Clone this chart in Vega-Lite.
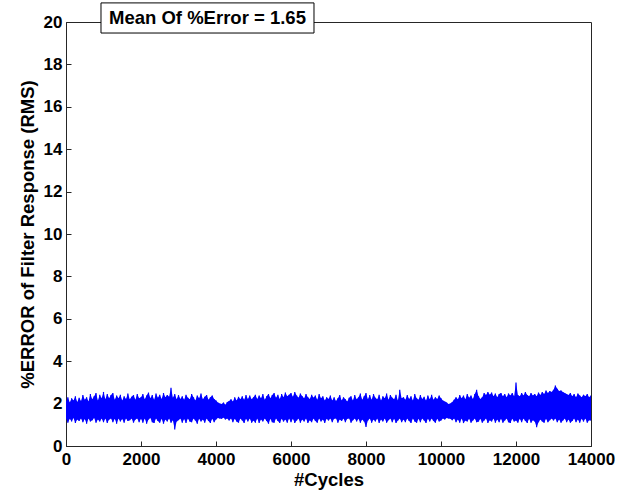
{
"$schema": "https://vega.github.io/schema/vega-lite/v6.json",
"width": 525, "height": 424,
"autosize": "none",
"padding": {"left": 66, "top": 22, "right": 36, "bottom": 45},
"background": "white",
"config": {
 "view": {"stroke": "#262626", "strokeWidth": 1},
 "font": "Liberation Sans",
 "axis": {"grid": false, "domainColor": "#262626", "tickColor": "#262626", "labelFont": "Liberation Sans", "labelFontWeight": "bold", "labelFontSize": 17, "labelColor": "black", "titleFont": "Liberation Sans", "titleFontWeight": "bold", "titleFontSize": 18.5, "titleColor": "black", "tickSize": -5, "tickWidth": 1}
},
"datasets": {
"err": [
{"c":0,"lo":1.3,"hi":2.1},{"c":50,"lo":1.1,"hi":2.3},{"c":100,"lo":1.28,"hi":2.05},{"c":150,"lo":1.15,"hi":2.25},{"c":200,"lo":1.32,"hi":2.15},{"c":250,"lo":1.08,"hi":2.35},{"c":300,"lo":1.25,"hi":2.08},{"c":350,"lo":1.18,"hi":2.28},{"c":400,"lo":1.3,"hi":2.12},{"c":450,"lo":1.12,"hi":2.4},{"c":500,"lo":1.27,"hi":2.18},{"c":550,"lo":1.05,"hi":2.3},{"c":600,"lo":1.3,"hi":2.1},{"c":650,"lo":1.15,"hi":2.45},{"c":700,"lo":1.22,"hi":2.2},{"c":750,"lo":1.32,"hi":2.35},{"c":800,"lo":1.1,"hi":2.5},{"c":850,"lo":1.25,"hi":2.15},{"c":900,"lo":1.15,"hi":2.42},{"c":950,"lo":1.3,"hi":2.25},
{"c":1000,"lo":1.12,"hi":2.55},{"c":1050,"lo":1.3,"hi":2.2},{"c":1100,"lo":1.08,"hi":2.45},{"c":1150,"lo":1.25,"hi":2.25},{"c":1200,"lo":1.3,"hi":2.4},{"c":1250,"lo":1.12,"hi":2.5},{"c":1300,"lo":1.28,"hi":2.18},{"c":1350,"lo":1.05,"hi":2.38},{"c":1400,"lo":1.3,"hi":2.25},{"c":1450,"lo":1.15,"hi":2.42},{"c":1500,"lo":1.27,"hi":2.15},{"c":1550,"lo":1.1,"hi":2.35},{"c":1600,"lo":1.3,"hi":2.22},{"c":1650,"lo":1.18,"hi":2.48},{"c":1700,"lo":1.22,"hi":2.2},{"c":1750,"lo":1.3,"hi":2.32},{"c":1800,"lo":1.1,"hi":2.4},{"c":1850,"lo":1.25,"hi":2.18},{"c":1900,"lo":1.3,"hi":2.45},{"c":1950,"lo":1.12,"hi":2.25},
{"c":2000,"lo":1.28,"hi":2.3},{"c":2050,"lo":1.1,"hi":2.45},{"c":2100,"lo":1.3,"hi":2.2},{"c":2150,"lo":1.05,"hi":2.38},{"c":2200,"lo":1.25,"hi":2.52},{"c":2250,"lo":1.32,"hi":2.25},{"c":2300,"lo":1.12,"hi":2.4},{"c":2350,"lo":1.08,"hi":2.18},{"c":2400,"lo":1.3,"hi":2.48},{"c":2450,"lo":1.18,"hi":2.28},{"c":2500,"lo":1.1,"hi":2.42},{"c":2550,"lo":1.28,"hi":2.22},{"c":2600,"lo":1.05,"hi":2.5},{"c":2650,"lo":1.25,"hi":2.3},{"c":2700,"lo":1.15,"hi":2.4},{"c":2750,"lo":1.3,"hi":2.32},{"c":2800,"lo":1.1,"hi":2.75},{"c":2850,"lo":1.22,"hi":2.28},{"c":2900,"lo":0.78,"hi":2.45},{"c":2950,"lo":1.15,"hi":2.2},
{"c":3000,"lo":1.22,"hi":2.4},{"c":3050,"lo":1.3,"hi":2.22},{"c":3100,"lo":1.1,"hi":2.35},{"c":3150,"lo":1.27,"hi":2.18},{"c":3200,"lo":1.08,"hi":2.42},{"c":3250,"lo":1.3,"hi":2.28},{"c":3300,"lo":1.15,"hi":2.2},{"c":3350,"lo":1.12,"hi":2.45},{"c":3400,"lo":1.3,"hi":2.3},{"c":3450,"lo":1.2,"hi":2.15},{"c":3500,"lo":1.05,"hi":2.38},{"c":3550,"lo":1.28,"hi":2.25},{"c":3600,"lo":1.15,"hi":2.48},{"c":3650,"lo":1.25,"hi":2.2},{"c":3700,"lo":1.1,"hi":2.32},{"c":3750,"lo":1.3,"hi":2.4},{"c":3800,"lo":1.18,"hi":2.18},{"c":3850,"lo":1.08,"hi":2.3},{"c":3900,"lo":1.28,"hi":2.38},{"c":3950,"lo":1.12,"hi":2.22},
{"c":4000,"lo":1.25,"hi":2.15},{"c":4050,"lo":1.32,"hi":2.05},{"c":4100,"lo":1.3,"hi":2.0},{"c":4150,"lo":1.28,"hi":1.98},{"c":4200,"lo":1.34,"hi":2.05},{"c":4250,"lo":1.25,"hi":1.95},{"c":4300,"lo":1.3,"hi":2.08},{"c":4350,"lo":1.2,"hi":2.12},{"c":4400,"lo":1.3,"hi":2.2},{"c":4450,"lo":1.12,"hi":2.1},{"c":4500,"lo":1.28,"hi":2.3},{"c":4550,"lo":1.15,"hi":2.15},{"c":4600,"lo":1.1,"hi":2.32},{"c":4650,"lo":1.3,"hi":2.2},{"c":4700,"lo":1.2,"hi":2.35},{"c":4750,"lo":1.08,"hi":2.18},{"c":4800,"lo":1.28,"hi":2.4},{"c":4850,"lo":1.15,"hi":2.22},{"c":4900,"lo":1.3,"hi":2.38},{"c":4950,"lo":1.1,"hi":2.2},
{"c":5000,"lo":1.2,"hi":2.3},{"c":5050,"lo":1.1,"hi":2.42},{"c":5100,"lo":1.3,"hi":2.22},{"c":5150,"lo":1.08,"hi":2.38},{"c":5200,"lo":1.25,"hi":2.25},{"c":5250,"lo":1.15,"hi":2.45},{"c":5300,"lo":1.3,"hi":2.18},{"c":5350,"lo":1.18,"hi":2.35},{"c":5400,"lo":1.05,"hi":2.45},{"c":5450,"lo":1.28,"hi":2.25},{"c":5500,"lo":1.12,"hi":2.4},{"c":5550,"lo":1.1,"hi":2.5},{"c":5600,"lo":1.3,"hi":2.28},{"c":5650,"lo":1.18,"hi":2.42},{"c":5700,"lo":1.08,"hi":2.22},{"c":5750,"lo":1.28,"hi":2.45},{"c":5800,"lo":1.15,"hi":2.3},{"c":5850,"lo":1.25,"hi":2.52},{"c":5900,"lo":1.1,"hi":2.35},{"c":5950,"lo":1.3,"hi":2.42},
{"c":6000,"lo":1.12,"hi":2.5},{"c":6050,"lo":1.28,"hi":2.32},{"c":6100,"lo":1.08,"hi":2.55},{"c":6150,"lo":1.2,"hi":2.38},{"c":6200,"lo":1.3,"hi":2.28},{"c":6250,"lo":1.1,"hi":2.48},{"c":6300,"lo":1.25,"hi":2.35},{"c":6350,"lo":1.15,"hi":2.25},{"c":6400,"lo":1.3,"hi":2.45},{"c":6450,"lo":1.08,"hi":2.3},{"c":6500,"lo":1.22,"hi":2.22},{"c":6550,"lo":1.12,"hi":2.42},{"c":6600,"lo":1.3,"hi":2.28},{"c":6650,"lo":1.18,"hi":2.38},{"c":6700,"lo":1.1,"hi":2.18},{"c":6750,"lo":1.3,"hi":2.45},{"c":6800,"lo":1.15,"hi":2.25},{"c":6850,"lo":1.25,"hi":2.35},{"c":6900,"lo":1.08,"hi":2.15},{"c":6950,"lo":1.28,"hi":2.3},
{"c":7000,"lo":1.2,"hi":2.22},{"c":7050,"lo":1.3,"hi":2.38},{"c":7100,"lo":1.12,"hi":2.15},{"c":7150,"lo":1.28,"hi":2.3},{"c":7200,"lo":1.3,"hi":2.12},{"c":7250,"lo":1.1,"hi":2.25},{"c":7300,"lo":1.25,"hi":2.4},{"c":7350,"lo":1.18,"hi":2.15},{"c":7400,"lo":1.3,"hi":2.3},{"c":7450,"lo":1.12,"hi":2.2},{"c":7500,"lo":1.28,"hi":2.1},{"c":7550,"lo":1.3,"hi":2.28},{"c":7600,"lo":1.1,"hi":2.35},{"c":7650,"lo":1.22,"hi":2.15},{"c":7700,"lo":1.3,"hi":2.4},{"c":7750,"lo":1.15,"hi":2.2},{"c":7800,"lo":1.28,"hi":2.3},{"c":7850,"lo":1.1,"hi":2.48},{"c":7900,"lo":1.25,"hi":2.18},{"c":7950,"lo":1.15,"hi":2.35},
{"c":8000,"lo":0.9,"hi":2.5},{"c":8050,"lo":1.2,"hi":2.2},{"c":8100,"lo":1.3,"hi":2.4},{"c":8150,"lo":1.1,"hi":2.18},{"c":8200,"lo":1.25,"hi":2.45},{"c":8250,"lo":1.15,"hi":2.28},{"c":8300,"lo":1.3,"hi":2.2},{"c":8350,"lo":1.08,"hi":2.42},{"c":8400,"lo":1.25,"hi":2.15},{"c":8450,"lo":1.15,"hi":2.35},{"c":8500,"lo":1.3,"hi":2.25},{"c":8550,"lo":1.1,"hi":2.48},{"c":8600,"lo":1.22,"hi":2.18},{"c":8650,"lo":1.3,"hi":2.4},{"c":8700,"lo":1.12,"hi":2.28},{"c":8750,"lo":1.28,"hi":2.2},{"c":8800,"lo":1.08,"hi":2.42},{"c":8850,"lo":1.2,"hi":2.15},{"c":8900,"lo":1.3,"hi":2.65},{"c":8950,"lo":1.12,"hi":2.25},
{"c":9000,"lo":1.25,"hi":2.3},{"c":9050,"lo":1.12,"hi":2.18},{"c":9100,"lo":1.3,"hi":2.4},{"c":9150,"lo":1.18,"hi":2.22},{"c":9200,"lo":1.08,"hi":2.35},{"c":9250,"lo":1.3,"hi":2.15},{"c":9300,"lo":1.15,"hi":2.45},{"c":9350,"lo":1.1,"hi":2.25},{"c":9400,"lo":1.28,"hi":2.18},{"c":9450,"lo":1.12,"hi":2.4},{"c":9500,"lo":1.3,"hi":2.22},{"c":9550,"lo":1.2,"hi":2.32},{"c":9600,"lo":1.08,"hi":2.15},{"c":9650,"lo":1.28,"hi":2.38},{"c":9700,"lo":1.15,"hi":2.2},{"c":9750,"lo":1.3,"hi":2.42},{"c":9800,"lo":1.18,"hi":2.18},{"c":9850,"lo":1.1,"hi":2.3},{"c":9900,"lo":1.28,"hi":2.22},{"c":9950,"lo":1.15,"hi":2.38},
{"c":10000,"lo":1.2,"hi":2.25},{"c":10050,"lo":1.3,"hi":2.15},{"c":10100,"lo":1.25,"hi":2.1},{"c":10150,"lo":1.32,"hi":2.05},{"c":10200,"lo":1.3,"hi":1.98},{"c":10250,"lo":1.28,"hi":2.0},{"c":10300,"lo":1.22,"hi":2.08},{"c":10350,"lo":1.3,"hi":2.18},{"c":10400,"lo":1.12,"hi":2.3},{"c":10450,"lo":1.25,"hi":2.2},{"c":10500,"lo":1.1,"hi":2.4},{"c":10550,"lo":1.3,"hi":2.25},{"c":10600,"lo":1.08,"hi":2.38},{"c":10650,"lo":1.2,"hi":2.2},{"c":10700,"lo":1.15,"hi":2.45},{"c":10750,"lo":1.28,"hi":2.28},{"c":10800,"lo":1.1,"hi":2.38},{"c":10850,"lo":1.2,"hi":2.22},{"c":10900,"lo":1.3,"hi":2.45},{"c":10950,"lo":1.12,"hi":2.65},
{"c":11000,"lo":1.15,"hi":2.35},{"c":11050,"lo":1.28,"hi":2.22},{"c":11100,"lo":1.1,"hi":2.3},{"c":11150,"lo":1.2,"hi":2.5},{"c":11200,"lo":1.3,"hi":2.4},{"c":11250,"lo":1.08,"hi":2.55},{"c":11300,"lo":1.22,"hi":2.42},{"c":11350,"lo":1.15,"hi":2.52},{"c":11400,"lo":1.3,"hi":2.35},{"c":11450,"lo":1.1,"hi":2.48},{"c":11500,"lo":1.25,"hi":2.3},{"c":11550,"lo":1.12,"hi":2.45},{"c":11600,"lo":1.28,"hi":2.5},{"c":11650,"lo":1.1,"hi":2.35},{"c":11700,"lo":1.2,"hi":2.45},{"c":11750,"lo":1.3,"hi":2.3},{"c":11800,"lo":1.12,"hi":2.48},{"c":11850,"lo":1.08,"hi":2.38},{"c":11900,"lo":1.28,"hi":2.5},{"c":11950,"lo":1.15,"hi":2.35},
{"c":12000,"lo":1.2,"hi":3.0},{"c":12050,"lo":1.1,"hi":2.4},{"c":12100,"lo":1.28,"hi":2.35},{"c":12150,"lo":1.12,"hi":2.5},{"c":12200,"lo":1.3,"hi":2.38},{"c":12250,"lo":1.18,"hi":2.55},{"c":12300,"lo":1.08,"hi":2.4},{"c":12350,"lo":1.28,"hi":2.35},{"c":12400,"lo":1.1,"hi":2.5},{"c":12450,"lo":1.22,"hi":2.38},{"c":12500,"lo":1.15,"hi":2.45},{"c":12550,"lo":0.88,"hi":2.35},{"c":12600,"lo":1.12,"hi":2.52},{"c":12650,"lo":1.25,"hi":2.4},{"c":12700,"lo":1.15,"hi":2.55},{"c":12750,"lo":1.1,"hi":2.45},{"c":12800,"lo":1.28,"hi":2.62},{"c":12850,"lo":1.12,"hi":2.5},{"c":12900,"lo":1.22,"hi":2.6},{"c":12950,"lo":1.3,"hi":2.55},
{"c":13000,"lo":1.2,"hi":2.65},{"c":13050,"lo":1.3,"hi":2.85},{"c":13100,"lo":1.12,"hi":2.7},{"c":13150,"lo":1.25,"hi":2.6},{"c":13200,"lo":1.1,"hi":2.62},{"c":13250,"lo":1.2,"hi":2.55},{"c":13300,"lo":1.3,"hi":2.5},{"c":13350,"lo":1.12,"hi":2.45},{"c":13400,"lo":1.25,"hi":2.4},{"c":13450,"lo":1.1,"hi":2.5},{"c":13500,"lo":1.18,"hi":2.35},{"c":13550,"lo":1.3,"hi":2.45},{"c":13600,"lo":1.12,"hi":2.3},{"c":13650,"lo":1.25,"hi":2.48},{"c":13700,"lo":1.1,"hi":2.38},{"c":13750,"lo":1.28,"hi":2.3},{"c":13800,"lo":1.15,"hi":2.42},{"c":13850,"lo":1.3,"hi":2.35},{"c":13900,"lo":1.1,"hi":2.45},{"c":13950,"lo":1.22,"hi":2.3},{"c":14000,"lo":1.2,"hi":2.38}
]
},
"layer": [
 {
  "data": {"name": "err"},
  "mark": {"type": "area", "color": "#0000ff", "opacity": 1, "clip": true},
  "encoding": {
   "x": {"field": "c", "type": "quantitative", "scale": {"domain": [0, 14000], "nice": false, "zero": false}, "axis": {"values": [0,2000,4000,6000,8000,10000,12000,14000], "title": "#Cycles", "labelPadding": 10, "titlePadding": 3, "labelFlush": false, "format": "d"}},
   "y": {"field": "lo", "type": "quantitative", "scale": {"domain": [0, 20], "nice": false}, "axis": {"values": [0,2,4,6,8,10,12,14,16,18,20], "title": "%ERROR of Filter Response (RMS)", "labelPadding": 9, "titlePadding": 6, "labelFlush": false}},
   "y2": {"field": "hi"}
  }
 },
 {
  "data": {"name": "err"},
  "mark": {"type": "rule", "color": "#0000ff", "strokeWidth": 1.2, "clip": true},
  "encoding": {
   "x": {"field": "c", "type": "quantitative"},
   "y": {"field": "lo", "type": "quantitative"},
   "y2": {"field": "hi"}
  }
 },
 {
  "data": {"values": [{}]},
  "mark": {"type": "rect", "fill": "white", "stroke": "black", "strokeWidth": 1},
  "encoding": {
   "x": {"datum": 933, "type": "quantitative"},
   "x2": {"datum": 6613},
   "y": {"datum": 19.48, "type": "quantitative"},
   "y2": {"datum": 20.9}
  }
 },
 {
  "data": {"values": [{"label": "Mean Of %Error = 1.65"}]},
  "mark": {"type": "text", "font": "Liberation Sans", "fontWeight": "bold", "fontSize": 18.5, "color": "black", "align": "center", "baseline": "middle"},
  "encoding": {
   "text": {"field": "label"},
   "x": {"datum": 3773, "type": "quantitative"},
   "y": {"datum": 20.2, "type": "quantitative"}
  }
 }
]
}
